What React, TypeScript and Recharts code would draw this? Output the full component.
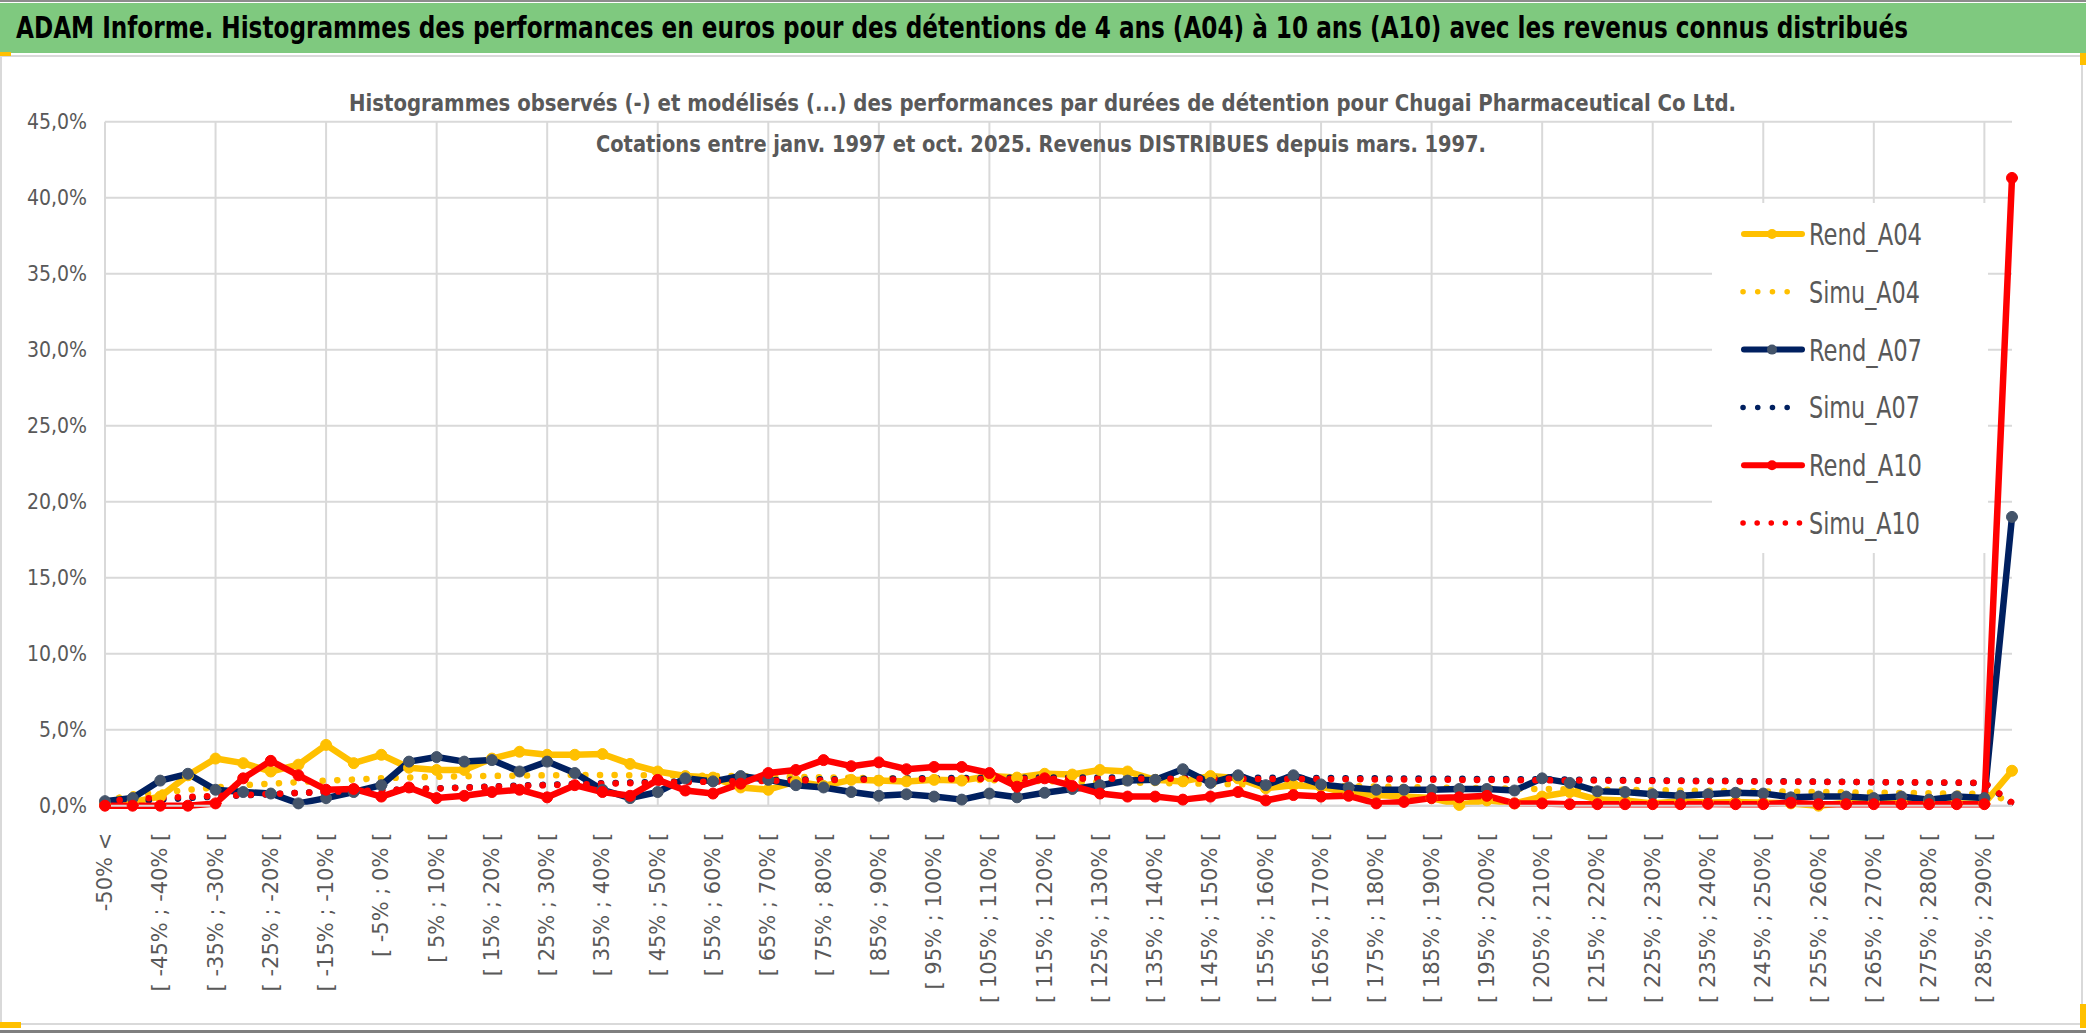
import React from 'react';
import { LineChart, Line, XAxis, YAxis, CartesianGrid, ReferenceLine } from 'recharts';

const W = 2086;
const H = 1033;

// return buckets, 5% wide, shown every other one on the axis
const categories = [
  '-50% <',
  '[ -50% ; -45% [', '[ -45% ; -40% [', '[ -40% ; -35% [', '[ -35% ; -30% [', '[ -30% ; -25% [',
  '[ -25% ; -20% [', '[ -20% ; -15% [', '[ -15% ; -10% [', '[ -10% ; -5% [', '[ -5% ; 0% [',
  '[ 0% ; 5% [', '[ 5% ; 10% [', '[ 10% ; 15% [', '[ 15% ; 20% [', '[ 20% ; 25% [',
  '[ 25% ; 30% [', '[ 30% ; 35% [', '[ 35% ; 40% [', '[ 40% ; 45% [', '[ 45% ; 50% [',
  '[ 50% ; 55% [', '[ 55% ; 60% [', '[ 60% ; 65% [', '[ 65% ; 70% [', '[ 70% ; 75% [',
  '[ 75% ; 80% [', '[ 80% ; 85% [', '[ 85% ; 90% [', '[ 90% ; 95% [', '[ 95% ; 100% [',
  '[ 100% ; 105% [', '[ 105% ; 110% [', '[ 110% ; 115% [', '[ 115% ; 120% [', '[ 120% ; 125% [',
  '[ 125% ; 130% [', '[ 130% ; 135% [', '[ 135% ; 140% [', '[ 140% ; 145% [', '[ 145% ; 150% [',
  '[ 150% ; 155% [', '[ 155% ; 160% [', '[ 160% ; 165% [', '[ 165% ; 170% [', '[ 170% ; 175% [',
  '[ 175% ; 180% [', '[ 180% ; 185% [', '[ 185% ; 190% [', '[ 190% ; 195% [', '[ 195% ; 200% [',
  '[ 200% ; 205% [', '[ 205% ; 210% [', '[ 210% ; 215% [', '[ 215% ; 220% [', '[ 220% ; 225% [',
  '[ 225% ; 230% [', '[ 230% ; 235% [', '[ 235% ; 240% [', '[ 240% ; 245% [', '[ 245% ; 250% [',
  '[ 250% ; 255% [', '[ 255% ; 260% [', '[ 260% ; 265% [', '[ 265% ; 270% [', '[ 270% ; 275% [',
  '[ 275% ; 280% [', '[ 280% ; 285% [', '[ 285% ; 290% [',
  '> 290%',
];

// values in %
const rendA04 = [
  0.1, 0.25, 0.6, 2.0, 3.1, 2.8, 2.25, 2.7, 4.0, 2.8,
  3.35, 2.5, 2.35, 2.35, 3.1, 3.55, 3.35, 3.35, 3.4, 2.75,
  2.25, 1.95, 1.85, 1.2, 1.05, 1.6, 1.3, 1.7, 1.65, 1.6,
  1.7, 1.65, 1.95, 1.85, 2.1, 2.05, 2.35, 2.25, 1.7, 1.6,
  1.95, 1.8, 1.15, 1.35, 1.25, 0.8, 0.7, 0.6, 0.5, 0.05,
  0.35, 0.15, 0.6, 0.9, 0.4, 0.35, 0.15, 0.3, 0.2, 0.25,
  0.2, 0.15, 0.0, 0.2, 0.25, 0.2, 0.3, 0.15, 0.15, 2.3,
];
const simuA04 = [
  0.3, 0.75, 0.85, 1.05, 1.2, 1.35, 1.45, 1.55, 1.65, 1.72,
  1.8, 1.86, 1.9, 1.93, 1.96, 1.98, 2.0, 2.02, 2.02, 2.01,
  2.0, 1.98, 1.96, 1.94, 1.92, 1.89, 1.86, 1.83, 1.8, 1.77,
  1.74, 1.71, 1.68, 1.65, 1.62, 1.59, 1.56, 1.53, 1.5, 1.47,
  1.44, 1.41, 1.38, 1.35, 1.32, 1.29, 1.26, 1.23, 1.2, 1.17,
  1.15, 1.12, 1.1, 1.08, 1.06, 1.04, 1.02, 1.0, 0.98, 0.96,
  0.94, 0.92, 0.9, 0.88, 0.86, 0.84, 0.82, 0.8, 0.78, 0.3,
];
const rendA07 = [
  0.3, 0.5, 1.65, 2.1, 1.05, 0.9, 0.8, 0.15, 0.5, 0.9,
  1.35, 2.9, 3.2, 2.9, 3.0, 2.25, 2.9, 2.15, 1.05, 0.5,
  0.9, 1.8, 1.6, 1.95, 1.7, 1.35, 1.2, 0.9, 0.65, 0.75,
  0.6, 0.4, 0.8, 0.55, 0.85, 1.1, 1.35, 1.65, 1.7, 2.4,
  1.5, 2.0, 1.35, 2.0, 1.4, 1.2, 1.05, 1.05, 1.05, 1.1,
  1.1, 1.0, 1.8, 1.5, 0.95, 0.9, 0.75, 0.65, 0.75, 0.85,
  0.8, 0.55, 0.6, 0.6, 0.5, 0.6, 0.4, 0.6, 0.5, 19.0,
];
const simuA07 = [
  0.2, 0.3, 0.4, 0.5, 0.6, 0.68, 0.76, 0.84, 0.9, 0.96,
  1.02, 1.08, 1.14, 1.2, 1.26, 1.32, 1.38, 1.43, 1.48, 1.52,
  1.56, 1.6, 1.63, 1.66, 1.69, 1.72, 1.74, 1.76, 1.78, 1.8,
  1.81, 1.82, 1.83, 1.84, 1.85, 1.86, 1.86, 1.86, 1.86, 1.86,
  1.85, 1.85, 1.84, 1.83, 1.82, 1.81, 1.8, 1.79, 1.78, 1.77,
  1.76, 1.75, 1.73, 1.72, 1.7, 1.69, 1.67, 1.66, 1.64, 1.63,
  1.61, 1.6, 1.58, 1.57, 1.55, 1.54, 1.52, 1.51, 1.49, 0.15,
];
const rendA10 = [
  0, 0, 0, 0, 0.15, 1.8, 2.95, 2.0, 1.05, 1.1,
  0.6, 1.2, 0.5, 0.65, 0.9, 1.05, 0.55, 1.35, 0.9, 0.65,
  1.7, 1.0, 0.8, 1.45, 2.15, 2.35, 3.0, 2.6, 2.85, 2.4,
  2.55, 2.55, 2.15, 1.25, 1.8, 1.3, 0.8, 0.6, 0.6, 0.4,
  0.6, 0.9, 0.35, 0.7, 0.6, 0.65, 0.15, 0.25, 0.5, 0.55,
  0.65, 0.15, 0.15, 0.1, 0.1, 0.1, 0.1, 0.1, 0.12, 0.1,
  0.1, 0.2, 0.1, 0.1, 0.1, 0.1, 0.1, 0.1, 0.1, 41.3,
];
const simuA10 = [
  0.3, 0.45, 0.52, 0.58, 0.64, 0.7, 0.77, 0.84, 0.9, 0.96,
  1.02, 1.08, 1.13, 1.18, 1.24, 1.3, 1.35, 1.4, 1.44, 1.48,
  1.52, 1.55, 1.58, 1.61, 1.64, 1.66, 1.68, 1.7, 1.72, 1.73,
  1.74, 1.75, 1.76, 1.77, 1.77, 1.78, 1.78, 1.78, 1.78, 1.78,
  1.77, 1.77, 1.76, 1.76, 1.75, 1.74, 1.73, 1.72, 1.71, 1.7,
  1.69, 1.68, 1.67, 1.66, 1.65, 1.64, 1.63, 1.62, 1.61, 1.6,
  1.59, 1.58, 1.57, 1.56, 1.55, 1.54, 1.53, 1.52, 1.51, 0.2,
];

const yTicks = [0, 5, 10, 15, 20, 25, 30, 35, 40, 45];

const series = [
  { key: 'Rend_A04', values: rendA04, color: '#ffc000', marker: '#ffc000', dotted: false },
  { key: 'Simu_A04', values: simuA04, color: '#ffc000', marker: '', dotted: true },
  { key: 'Rend_A07', values: rendA07, color: '#002060', marker: '#44546a', dotted: false },
  { key: 'Simu_A07', values: simuA07, color: '#002060', marker: '', dotted: true },
  { key: 'Rend_A10', values: rendA10, color: '#ff0000', marker: '#ff0000', dotted: false },
  { key: 'Simu_A10', values: simuA10, color: '#ff0000', marker: '', dotted: true },
];

const data = categories.map((cat, i) => {
  const row: Record<string, string | number> = { cat };
  series.forEach((s) => {
    row[s.key] = s.values[i];
  });
  return row;
});

// vertical gridlines every 4 buckets
const gridCats = categories.filter((_, i) => i % 4 === 0);

const narrow = "'Liberation Sans Narrow', 'DejaVu Sans Condensed', sans-serif";
const grey = '#595959';

const fmtPct = (v: number) => `${v.toFixed(1).replace('.', ',')}%`;

const XTick = (props: any) => {
  const { x, y, payload } = props;
  const ty = y + 27;
  return (
    <text
      x={x}
      y={ty}
      transform={`rotate(-90 ${x} ${ty})`}
      textAnchor="end"
      dominantBaseline="central"
      fill={grey}
      fontSize={21}
      fontFamily="'DejaVu Sans', sans-serif"
    >
      {payload.value}
    </text>
  );
};

// text drawn small, then stretched vertically so it never overflows its width
const FitText = ({ x, y, width, size, stretch, color, bold, children }: any) => (
  <g transform={`translate(${x} ${y}) scale(1 ${stretch})`}>
    <text
      x={0}
      y={0}
      fontSize={size}
      fontWeight={bold ? 'bold' : 'normal'}
      fontFamily={narrow}
      fill={color}
      textLength={width}
      lengthAdjust="spacingAndGlyphs"
    >
      {children}
    </text>
  </g>
);

const legendTop = 234;
const legendStep = 57.8;

const App = () => {
  return (
    <div style={{ position: 'absolute', left: 0, top: 0, width: W, height: H, background: '#fff', overflow: 'hidden' }}>
      {/* sheet frame */}
      <div style={{ position: 'absolute', left: 0, top: 0, width: W, height: 2, background: '#8c8c8c' }} />
      <div style={{ position: 'absolute', left: 0, top: 3, width: W, height: 50, background: '#7fc97f' }} />
      <div
        style={{
          position: 'absolute', left: 0, top: 55, width: 2083, height: 970,
          border: '2px solid #d9d9d9', boxSizing: 'border-box',
        }}
      />
      <div style={{ position: 'absolute', left: 0, top: 1030, width: W, height: 3, background: '#7f7f7f' }} />
      <div style={{ position: 'absolute', left: 0, top: 52, width: 11, height: 4, background: '#ffc000' }} />
      <div style={{ position: 'absolute', left: 0, top: 1022, width: 21, height: 6, background: '#ffc000' }} />
      <div style={{ position: 'absolute', left: 2080, top: 53, width: 6, height: 12, background: '#ffc000' }} />
      <div style={{ position: 'absolute', left: 2080, top: 1004, width: 6, height: 24, background: '#ffc000' }} />

      <div style={{ position: 'absolute', left: 0, top: 0 }}>
        <LineChart
          width={W}
          height={H}
          data={data}
          margin={{ top: 121.7, right: 74, bottom: 27.3, left: 45 }}
        >
          <CartesianGrid vertical={false} stroke="#d9d9d9" strokeWidth={2} />
          {gridCats.map((c) => (
            <ReferenceLine key={c} x={c} stroke="#d9d9d9" strokeWidth={2} />
          ))}
          <XAxis
            dataKey="cat"
            interval={1}
            height={200}
            tick={XTick}
            tickLine={false}
            tickSize={0}
            tickMargin={0}
            axisLine={{ stroke: '#d9d9d9', strokeWidth: 2 }}
          />
          <YAxis
            domain={[0, 45]}
            ticks={yTicks}
            interval={0}
            width={60}
            tickFormatter={fmtPct}
            tick={{ fill: grey, fontSize: 21, fontFamily: narrow }}
            axisLine={false}
            tickLine={false}
            tickSize={0}
            tickMargin={18}
          />
          {series.map((s) => (
            <Line
              key={s.key}
              dataKey={s.key}
              type="linear"
              stroke={s.color}
              strokeWidth={6.5}
              strokeDasharray={s.dotted ? '0.1 14.5' : undefined}
              strokeLinecap="round"
              strokeLinejoin="round"
              dot={s.dotted ? false : { r: 5.5, fill: s.marker, stroke: s.marker, strokeWidth: 1 }}
              activeDot={false}
              isAnimationActive={false}
            />
          ))}
        </LineChart>
      </div>

      <svg width={W} height={H} style={{ position: 'absolute', left: 0, top: 0, pointerEvents: 'none' }}>
        <FitText x={16} y={38} width={1892} size={23} stretch={1.3} color="#000" bold>
          ADAM Informe. Histogrammes des performances en euros pour des détentions de 4 ans (A04) à 10 ans (A10) avec les revenus connus distribués
        </FitText>
        <FitText x={349} y={111} width={1387} size={19} stretch={1.25} color={grey} bold>
          Histogrammes observés (-) et modélisés (...) des performances par durées de détention pour Chugai Pharmaceutical Co Ltd.
        </FitText>
        <FitText x={596} y={152} width={890} size={19} stretch={1.25} color={grey} bold>
          Cotations entre janv. 1997 et oct. 2025. Revenus DISTRIBUES depuis mars. 1997.
        </FitText>

        {/* legend */}
        <rect x={1712} y={203} width={276} height={350} fill="#fff" />
        {series.map((s, i) => {
          const cy = legendTop + i * legendStep;
          return (
            <g key={s.key}>
              {s.dotted ? (
                <line
                  x1={1743}
                  x2={s.key === 'Simu_A10' ? 1800 : 1788}
                  y1={cy}
                  y2={cy}
                  stroke={s.color}
                  strokeWidth={5.5}
                  strokeDasharray={s.key === 'Simu_A10' ? '0.1 14' : '0.1 14.6'}
                  strokeLinecap="round"
                />
              ) : (
                <>
                  <line x1={1744} x2={1802} y1={cy} y2={cy} stroke={s.color} strokeWidth={6} strokeLinecap="round" />
                  <circle cx={1772} cy={cy} r={5} fill={s.marker} />
                </>
              )}
              <text
                x={1809}
                y={cy + 11}
                fontSize={31}
                fontFamily={narrow}
                fill={grey}
                textLength={s.dotted ? 111 : 113}
                lengthAdjust="spacingAndGlyphs"
              >
                {s.key}
              </text>
            </g>
          );
        })}
      </svg>
    </div>
  );
};

export default App;
